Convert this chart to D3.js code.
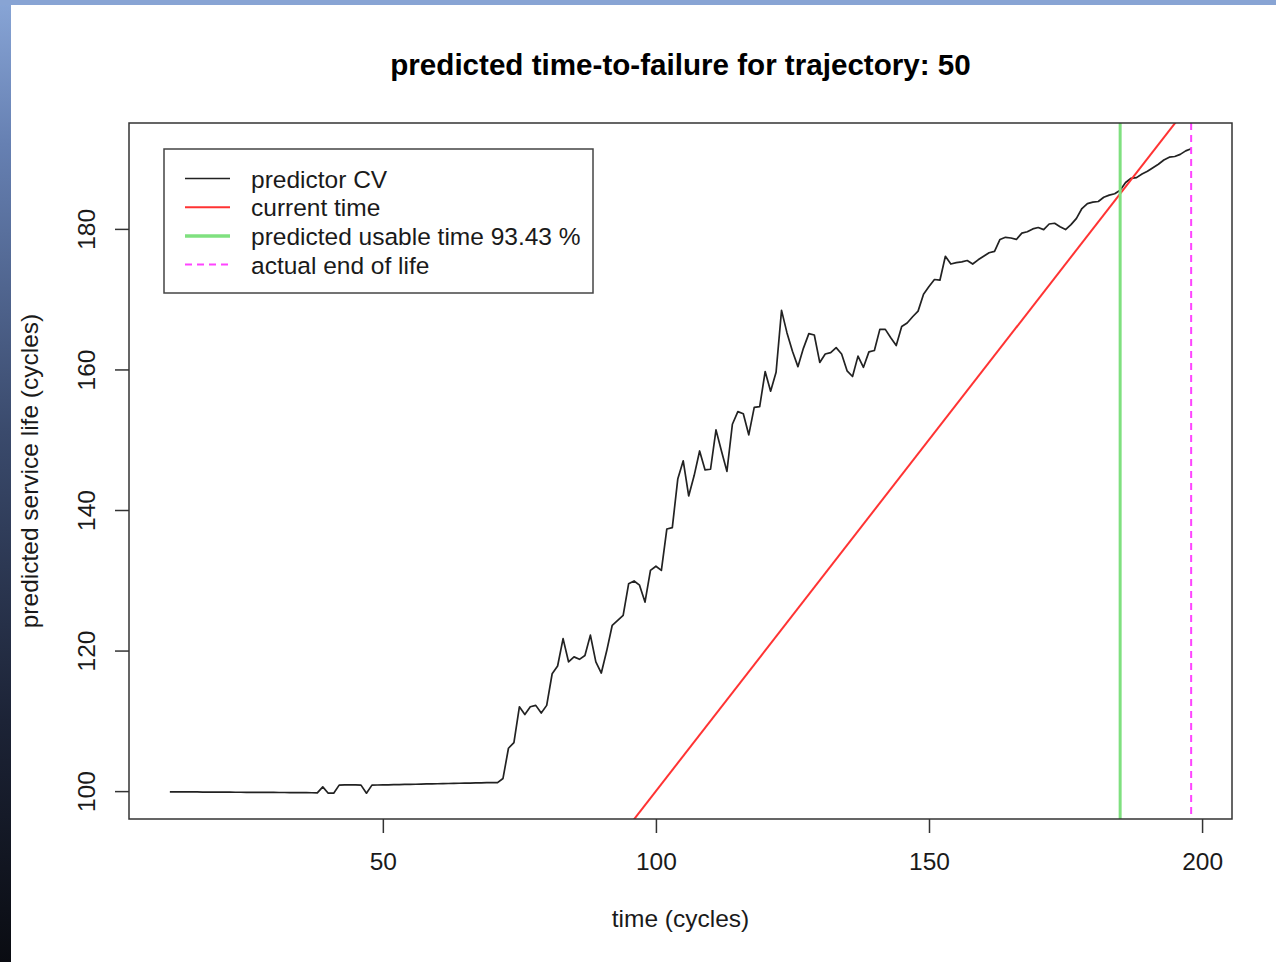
<!DOCTYPE html>
<html>
<head>
<meta charset="utf-8">
<script src="https://cdn.jsdelivr.net/npm/d3@7"></script>
<style>
  html, body { margin: 0; padding: 0; background: #fff; }
  svg { display: block; font-family: "Liberation Sans", Arial, Helvetica, sans-serif; }
  .tick text { fill: #1a1a1a; }
</style>
</head>
<body>
<div id="chart"></div>
<script>
// cycles and the predicted service life
const cycles = d3.range(11, 199);
const predicted = [
  99.90, 99.90, 99.89, 99.89, 99.88, 99.88, 99.87, 99.87, 99.86, 99.86,
  99.85, 99.85, 99.84, 99.84, 99.83, 99.83, 99.82, 99.82, 99.81, 99.81,
  99.80, 99.80, 99.79, 99.79, 99.78, 99.78, 99.77, 99.75, 100.6, 99.7,
  99.7, 100.85, 100.9, 100.9, 100.9, 100.85, 99.7, 100.85, 100.87, 100.88,
  100.9, 100.92, 100.93, 100.95, 100.97, 100.98, 101.0, 101.02, 101.03, 101.05,
  101.07, 101.08, 101.1, 101.12, 101.13, 101.15, 101.17, 101.18, 101.2, 101.2,
  101.2, 101.8, 106.1, 106.9, 112.0, 110.9, 112.0, 112.2, 111.1, 112.2,
  116.7, 117.8, 121.7, 118.4, 119.1, 118.75, 119.3, 122.2, 118.4, 116.8,
  120.0, 123.6, 124.3, 125.0, 129.5, 129.9, 129.3, 126.9, 131.4, 132.0,
  131.4, 137.3, 137.5, 144.4, 147.0, 142.0, 144.9, 148.4, 145.7, 145.8,
  151.4, 148.4, 145.5, 152.2, 154.0, 153.7, 150.7, 154.6, 154.7, 159.7,
  156.9, 159.6, 168.4, 165.2, 162.6, 160.4, 163.0, 165.1, 164.9, 161.0,
  162.2, 162.4, 163.1, 162.2, 159.8, 159.0, 161.9, 160.3, 162.5, 162.7,
  165.7, 165.7, 164.5, 163.4, 166.1, 166.6, 167.5, 168.3, 170.7, 171.8,
  172.8, 172.7, 176.1, 175.0, 175.2, 175.3, 175.5, 175.0, 175.6, 176.1,
  176.6, 176.8, 178.5, 178.8, 178.7, 178.5, 179.4, 179.6, 180.0, 180.2,
  179.9, 180.7, 180.8, 180.3, 179.9, 180.6, 181.5, 182.9, 183.6, 183.8,
  183.9, 184.5, 184.8, 185.0, 185.5, 186.6, 187.2, 187.3, 187.8, 188.2,
  188.7, 189.2, 189.8, 190.2, 190.3, 190.6, 191.1, 191.4
];
const endOfLife = 198;
const usablePct = 93.43;
const usableTime = 185;

const xTicks = [50, 100, 150, 200];
const yTicks = [100, 120, 140, 160, 180];

const legendLabels = ["predictor CV", "current time", `predicted usable time ${usablePct} %`, "actual end of life"];

const W = 1276, H = 962;
const box = { left: 129, right: 1232, top: 123, bottom: 819 };
const fs = "24.5px";

const svg = d3.select("#chart").append("svg")
  .attr("width", W)
  .attr("height", H);

// blue desktop frame around the plot
const grad = svg.append("defs").append("linearGradient")
  .attr("id", "frame")
  .attr("x1", 0).attr("y1", 0).attr("x2", 0).attr("y2", 1);
grad.append("stop").attr("offset", "0%").attr("stop-color", "#88a5d6");
grad.append("stop").attr("offset", "15%").attr("stop-color", "#6680b2");
grad.append("stop").attr("offset", "45%").attr("stop-color", "#3a4a6c");
grad.append("stop").attr("offset", "75%").attr("stop-color", "#1c2336");
grad.append("stop").attr("offset", "100%").attr("stop-color", "#0a0c12");

svg.append("rect").attr("width", W).attr("height", H).attr("fill", "url(#frame)");
svg.append("rect").attr("x", 0).attr("y", 0).attr("width", W).attr("height", 5).attr("fill", "#88a4d4");
svg.append("rect").attr("x", 11).attr("y", 5).attr("width", W - 11).attr("height", H - 5).attr("fill", "#fff");

// R-style 4% padding of the data range
const pad = (lo, hi) => [lo - (hi - lo) * 0.04, hi + (hi - lo) * 0.04];

const x = d3.scaleLinear()
  .domain(pad(d3.min(cycles), d3.max(cycles)))
  .range([box.left, box.right]);

const y = d3.scaleLinear()
  .domain(pad(d3.min(predicted), d3.max(predicted)))
  .range([box.bottom, box.top]);

svg.append("clipPath").attr("id", "plotclip")
  .append("rect")
  .attr("x", box.left).attr("y", box.top)
  .attr("width", box.right - box.left)
  .attr("height", box.bottom - box.top);

const plot = svg.append("g").attr("clip-path", "url(#plotclip)");

const data = cycles.map((c, i) => ({ c: c, v: predicted[i] }));

const line = d3.line().x((d) => x(d.c)).y((d) => y(d.v));

plot.append("path")
  .attr("d", line(data))
  .attr("fill", "none")
  .attr("stroke", "#222")
  .attr("stroke-width", 1.7)
  .attr("stroke-linejoin", "round");

// current time: y = x
const xd = x.domain();
plot.append("line")
  .attr("x1", x(xd[0])).attr("y1", y(xd[0]))
  .attr("x2", x(xd[1])).attr("y2", y(xd[1]))
  .attr("stroke", "#ff3333")
  .attr("stroke-width", 2);

plot.append("line")
  .attr("x1", x(usableTime)).attr("x2", x(usableTime))
  .attr("y1", box.top).attr("y2", box.bottom)
  .attr("stroke", "#7fe07f")
  .attr("stroke-width", 3);

plot.append("line")
  .attr("x1", x(endOfLife)).attr("x2", x(endOfLife))
  .attr("y1", box.top).attr("y2", box.bottom)
  .attr("stroke", "#ff44ff")
  .attr("stroke-width", 2)
  .attr("stroke-dasharray", "7,5");

// axes
const xAxis = d3.axisBottom(x).tickValues(xTicks).tickSize(14).tickFormat(d3.format("d"));
const gx = svg.append("g")
  .attr("transform", `translate(0,${box.bottom})`)
  .call(xAxis);
gx.select(".domain").remove();
gx.selectAll(".tick line").attr("stroke", "#333").attr("stroke-width", 1.5);
gx.selectAll(".tick text")
  .attr("y", 51).attr("dy", 0)
  .style("font-size", fs);

const yAxis = d3.axisLeft(y).tickValues(yTicks).tickSize(14).tickFormat(d3.format("d"));
const gy = svg.append("g")
  .attr("transform", `translate(${box.left},0)`)
  .call(yAxis);
gy.select(".domain").remove();
gy.selectAll(".tick line").attr("stroke", "#333").attr("stroke-width", 1.5);
gy.selectAll(".tick text")
  .attr("transform", "rotate(-90)")
  .attr("x", 0).attr("y", -34).attr("dy", 0)
  .style("text-anchor", "middle")
  .style("font-size", fs);

// box
svg.append("rect")
  .attr("x", box.left).attr("y", box.top)
  .attr("width", box.right - box.left)
  .attr("height", box.bottom - box.top)
  .attr("fill", "none")
  .attr("stroke", "#333")
  .attr("stroke-width", 1.5);

// titles
svg.append("text")
  .attr("x", (box.left + box.right) / 2)
  .attr("y", 75)
  .attr("text-anchor", "middle")
  .style("font-size", "29.6px")
  .style("font-weight", "bold")
  .attr("fill", "#000")
  .text("predicted time-to-failure for trajectory: 50");

svg.append("text")
  .attr("x", (box.left + box.right) / 2)
  .attr("y", 927)
  .attr("text-anchor", "middle")
  .style("font-size", fs)
  .attr("fill", "#1a1a1a")
  .text("time (cycles)");

svg.append("text")
  .attr("transform", `translate(38,${(box.top + box.bottom) / 2}) rotate(-90)`)
  .attr("text-anchor", "middle")
  .style("font-size", fs)
  .attr("fill", "#1a1a1a")
  .text("predicted service life (cycles)");

// legend
const legendStyles = [
  { color: "#222", width: 1.7, dash: null },
  { color: "#ff3333", width: 2, dash: null },
  { color: "#7fe07f", width: 3.5, dash: null },
  { color: "#ff44ff", width: 2, dash: "7,5" }
];

const legend = svg.append("g");
legend.append("rect")
  .attr("x", 164).attr("y", 149)
  .attr("width", 429).attr("height", 144)
  .attr("fill", "#fff")
  .attr("stroke", "#444")
  .attr("stroke-width", 1.5);

const rows = legend.selectAll("g.row")
  .data(legendLabels)
  .join("g")
  .attr("class", "row")
  .attr("transform", (d, i) => `translate(0,${178.5 + i * 28.7})`);

rows.append("line")
  .attr("x1", 185).attr("x2", 230)
  .attr("stroke", (d, i) => legendStyles[i].color)
  .attr("stroke-width", (d, i) => legendStyles[i].width)
  .attr("stroke-dasharray", (d, i) => legendStyles[i].dash);

rows.append("text")
  .attr("x", 251)
  .attr("y", 9)
  .style("font-size", fs)
  .attr("fill", "#1a1a1a")
  .text((d) => d);
</script>
</body>
</html>
